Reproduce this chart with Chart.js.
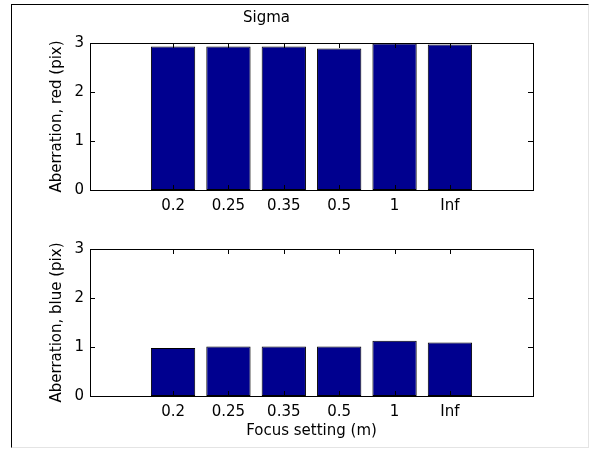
<!DOCTYPE html>
<html>
<head>
<meta charset="utf-8">
<script src="https://cdn.jsdelivr.net/npm/chart.js@4.4.1/dist/chart.umd.min.js"></script>
<style>
  html, body { margin: 0; padding: 0; background: #fff; }
  body { width: 591px; height: 450px; position: relative; overflow: hidden; }
  #frame { position: absolute; left: 11px; top: 4px; width: 576px; height: 442px;
           border-left: 1px solid #000; border-top: 1px solid #000;
           border-right: 1px solid #e4e4e4; border-bottom: 1px solid #e4e4e4; }
  canvas { position: absolute; left: 0; }
  #c1 { top: 0; }
  #c2 { top: 222px; }
</style>
</head>
<body>
<div id="frame"></div>
<canvas id="c1" width="591" height="222"></canvas>
<canvas id="c2" width="591" height="228"></canvas>
<script>
const categories = ['0.2', '0.25', '0.35', '0.5', '1', 'Inf'];
const redValues  = [2.93, 2.93, 2.93, 2.89, 2.99, 2.97];
const blueValues = [0.98, 1.01, 1.01, 1.01, 1.13, 1.09];
const yTicks = [0, 1, 2, 3];

const FONT = "'DejaVu Sans', 'Liberation Sans', Arial, sans-serif";
const FS = 15;
const BAR_COLOR = 'rgb(0,0,143)';

const boxPlugin = {
  id: 'matlabBox',
  afterDatasetsDraw(chart) {
    const { ctx, chartArea: a, scales } = chart;
    ctx.save();
    ctx.strokeStyle = '#000';
    ctx.lineWidth = 1;
    ctx.beginPath();
    const tl = 5;
    scales.x.ticks.forEach(t => {
      if (t.value < 1 || t.value > categories.length) return;
      const px = Math.round(scales.x.getPixelForValue(t.value)) + 0.5;
      ctx.moveTo(px, a.bottom); ctx.lineTo(px, a.bottom - tl);
      ctx.moveTo(px, a.top); ctx.lineTo(px, a.top + tl);
    });
    yTicks.forEach(v => {
      const py = Math.round(scales.y.getPixelForValue(v)) + 0.5;
      ctx.moveTo(a.left, py); ctx.lineTo(a.left + tl, py);
      ctx.moveTo(a.right, py); ctx.lineTo(a.right - tl, py);
    });
    ctx.stroke();
    ctx.strokeRect(Math.round(a.left) + 0.5, Math.round(a.top) + 0.5,
                   Math.round(a.right - a.left), Math.round(a.bottom - a.top));
    ctx.restore();
  }
};

function makeChart(id, values, yLabel, opts) {
  const data = values.map((v, i) => ({ x: i + 1, y: v }));
  return new Chart(document.getElementById(id), {
    type: 'bar',
    data: {
      datasets: [{
        data: data,
        backgroundColor: BAR_COLOR,
        borderColor: '#000',
        borderWidth: 1,
        borderSkipped: false,
        categoryPercentage: 0.8,
        barPercentage: 1.0
      }]
    },
    options: {
      responsive: false,
      animation: false,
      devicePixelRatio: 1,
      layout: { padding: { left: 0, right: 58, top: opts.padTop, bottom: 0 } },
      plugins: {
        legend: { display: false },
        tooltip: { enabled: false },
        title: opts.title ? {
          display: true, text: opts.title, color: '#000',
          font: { family: FONT, size: FS, weight: 'normal' },
          padding: { top: 9, bottom: 16 }
        } : { display: false }
      },
      scales: {
        x: {
          type: 'linear', min: 0, max: categories.length + 1,
          grid: { display: false, drawTicks: false },
          border: { display: false },
          ticks: {
            stepSize: 1, autoSkip: false, maxRotation: 0, padding: 7,
            color: '#000', font: { family: FONT, size: FS },
            callback: v => (v >= 1 && v <= categories.length) ? categories[v - 1] : ''
          },
          title: opts.xTitle ? {
            display: true, text: opts.xTitle, color: '#000',
            font: { family: FONT, size: FS }, padding: { top: 0, bottom: 10 }
          } : { display: false },
          afterFit: s => { s.height = opts.xHeight; }
        },
        y: {
          min: 0, max: 3,
          grid: { display: false, drawTicks: false },
          border: { display: false },
          ticks: {
            stepSize: 1, padding: 6, color: '#000',
            font: { family: FONT, size: FS }
          },
          title: {
            display: true, text: yLabel, color: '#000',
            font: { family: FONT, size: FS }, padding: { top: 48, bottom: 0 }
          },
          afterFit: s => { s.width = 90; }
        }
      }
    },
    plugins: [boxPlugin]
  });
}

makeChart('c1', redValues, 'Aberration, red (pix)', { title: 'Sigma', padTop: 0, xHeight: 32 });
makeChart('c2', blueValues, 'Aberration, blue (pix)', { padTop: 27, xHeight: 54, xTitle: 'Focus setting (m)' });
</script>
</body>
</html>
